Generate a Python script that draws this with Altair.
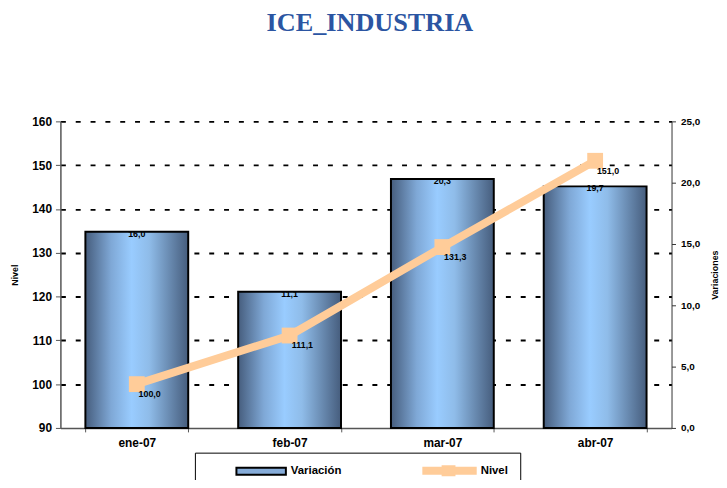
import altair as alt
import pandas as pd

meses = ["ene-07", "feb-07", "mar-07", "abr-07"]
variacion = [16.0, 11.1, 20.3, 19.7]
nivel = [100.0, 111.1, 131.3, 151.0]
series = ["Variación", "Nivel"]

df = pd.DataFrame({"mes": meses, "variacion": variacion, "nivel": nivel})
df["var_lbl"] = [f"{v:.1f}".replace(".", ",") for v in variacion]
df["niv_lbl"] = [f"{v:.1f}".replace(".", ",") for v in nivel]
leg = pd.DataFrame({"serie": series})

FONT = "Liberation Sans"
PEACH = "#FFCC99"

xenc = alt.X(
    "mes:N", sort=meses, title=None,
    scale=alt.Scale(paddingInner=0.327, paddingOuter=0.1635),
    axis=alt.Axis(labelAngle=0, labelFont=FONT, labelFontSize=12, labelFontWeight="bold",
                  labelColor="black", tickBand="extent", tickSize=4, tickColor="#555",
                  domainColor="#555", domainWidth=1.5, labelPadding=6, grid=False),
)

yvar = alt.Y(
    "variacion:Q", scale=alt.Scale(domain=[0, 25], nice=False),
    axis=alt.Axis(orient="right", values=[0, 5, 10, 15, 20, 25], grid=False,
                  labelExpr="replace(format(datum.value, '.1f'), '.', ',')",
                  labelFont=FONT, labelFontSize=10, labelFontWeight="bold", labelColor="black",
                  tickSize=4, tickColor="#333", domainColor="#333", labelPadding=5,
                  title="Variaciones", titleFont=FONT, titleFontSize=9, titleFontWeight="bold",
                  titleColor="black", titlePadding=20, titleAngle=270),
)

ynivel = alt.Y(
    "nivel:Q", scale=alt.Scale(domain=[90, 160], nice=False),
    axis=alt.Axis(orient="left", values=[90, 100, 110, 120, 130, 140, 150, 160], grid=True,
                  gridDash=[5, 10], gridColor="black", gridWidth=2,
                  gridOpacity={"condition": {"test": "datum.value == 90", "value": 0}, "value": 1},
                  labelFont=FONT, labelFontSize=12, labelFontWeight="bold", labelColor="black",
                  tickSize=5, tickColor="#555", domainColor="#555", domainWidth=1.5, labelPadding=4,
                  title="Nivel", titleFont=FONT, titleFontSize=9, titleFontWeight="bold",
                  titleColor="black", titlePadding=12),
)

grad = alt.Gradient(
    gradient="linear", x1=0, x2=1, y1=0, y2=0,
    stops=[alt.GradientStop(color="#465d7d", offset=0),
           alt.GradientStop(color="#7fa8d6", offset=0.25),
           alt.GradientStop(color="#99ccff", offset=0.45),
           alt.GradientStop(color="#8fbce9", offset=0.62),
           alt.GradientStop(color="#465d7d", offset=1)],
)

base = alt.Chart(df)

bars = base.mark_bar(fill=grad, stroke="black", strokeWidth=2).encode(x=xenc, y=yvar)
bar_lbl = base.mark_text(font=FONT, fontSize=9, fontWeight="bold", color="black",
                         baseline="middle", dy=2).encode(
    x=xenc, y=alt.Y("variacion:Q", scale=alt.Scale(domain=[0, 25], nice=False)), text="var_lbl:N")
left_bars = alt.layer(bars, bar_lbl)

line = base.mark_line(color=PEACH, strokeWidth=8).encode(x=xenc, y=ynivel)
squares = base.mark_square(color=PEACH, size=256, opacity=1).encode(
    x=xenc, y=alt.Y("nivel:Q", scale=alt.Scale(domain=[90, 160], nice=False)))
line_lbl = base.mark_text(font=FONT, fontSize=9, fontWeight="bold", color="black",
                          baseline="middle", dx=13, dy=10).encode(
    x=xenc, y=alt.Y("nivel:Q", scale=alt.Scale(domain=[90, 160], nice=False)), text="niv_lbl:N")
right_line = alt.layer(line, squares, line_lbl)

bar_path = "M4.8,-0.7H14.8V0.7H4.8Z"
line_path = "M4.2,-0.6H8.1V-0.9H10.5V-0.6H14.8V0.6H10.5V0.9H8.1V0.6H4.2Z"

legend = alt.Legend(
    title=None, orient="none", legendX=136, legendY=335, direction="horizontal", columns=2,
    columnPadding=55, padding=12, strokeColor="black",
    symbolSize=100, symbolStrokeWidth=2, symbolOpacity=1, labelOffset=73,
    labelFont=FONT, labelFontSize=11.5, labelFontWeight="bold", labelColor="black",
    labelExpr="datum.label == 'Nivel' ? 'Nivel\u00a0\u00a0\u00a0\u00a0\u00a0\u00a0\u00a0\u00a0\u00a0\u00a0' : datum.label",
)

leg_pts = alt.Chart(leg).mark_point(filled=True, opacity=0, size=100).encode(
    color=alt.Color("serie:N", scale=alt.Scale(domain=series, range=["#86acd9", PEACH]), legend=legend),
    shape=alt.Shape("serie:N", scale=alt.Scale(domain=series, range=[bar_path, line_path]), legend=legend),
    stroke=alt.Stroke("serie:N", scale=alt.Scale(domain=series, range=["black", PEACH]), legend=legend),
)

chart = alt.layer(left_bars, right_line, leg_pts).resolve_scale(y="independent").properties(
    width=618, height=310,
    autosize=alt.AutoSizeParams(type="none"),
    padding={"left": 53, "top": 112, "right": 48, "bottom": 50},
    title=alt.TitleParams("ICE_INDUSTRIA", font="Liberation Serif", fontSize=26.5, fontWeight="bold",
                          color="#2B55A2", offset=80, anchor="middle", frame="group", dx=4),
).configure_view(stroke=None)

chart.save("out.html", embed_options={"renderer": "svg", "actions": False})
